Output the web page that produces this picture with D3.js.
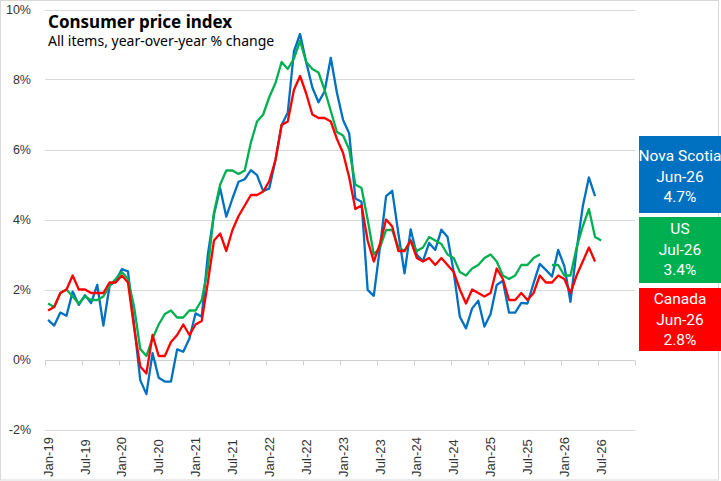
<!DOCTYPE html>
<html>
<head>
<meta charset="utf-8">
<script src="https://cdn.jsdelivr.net/npm/d3@7"></script>
<style>
  html, body { margin: 0; padding: 0; background: #fff; }
  svg { display: block; }
</style>
</head>
<body>
<svg id="chart" width="721" height="481"></svg>
<script>
// ---------- DATA ----------
const startMonth = new Date(2019, 0, 1);
const monthCount = 96; // Jan-19 .. Dec-26 category slots
const tickLabels = ["Jan-19","Jul-19","Jan-20","Jul-20","Jan-21","Jul-21","Jan-22","Jul-22",
                    "Jan-23","Jul-23","Jan-24","Jul-24","Jan-25","Jul-25","Jan-26","Jul-26"];
const yTicks = [-2, 0, 2, 4, 6, 8, 10];

const novaScotia = [
  1.13, 0.97, 1.34, 1.25, 1.94, 1.56, 1.84, 1.61, 2.13, 0.97, 2.10, 2.25,
  2.58, 2.52, 1.0, -0.59, -0.99, 0.18, -0.52, -0.63, -0.63, 0.29, 0.22, 0.6,
  1.32, 1.22, 3.0, 4.15, 4.89, 4.08, 4.6, 5.08, 5.15, 5.41, 5.27, 4.81,
  4.89, 5.7, 6.7, 7.05, 8.8, 9.3, 8.5, 7.77, 7.35, 7.66, 8.62, 7.62,
  6.84, 6.46, 4.6, 4.51, 1.99, 1.82, 3.2, 4.67, 4.82, 3.6, 2.46, 3.72,
  2.99, 2.81, 3.33, 3.13, 3.71, 3.5, 2.5, 1.22, 0.89, 1.46, 1.68, 0.94,
  1.30, 2.13, 2.25, 1.34, 1.34, 1.62, 1.6, 2.18, 2.73, 2.56, 2.37, 3.13,
  2.67, 1.65, 3.13, 4.37, 5.2, 4.67
];
const us = [
  1.6, 1.5, 1.9, 2.0, 1.8, 1.6, 1.8, 1.7, 1.7, 1.8, 2.1, 2.3,
  2.5, 2.3, 1.5, 0.3, 0.1, 0.6, 1.0, 1.3, 1.4, 1.2, 1.2, 1.4,
  1.4, 1.7, 2.6, 4.2, 5.0, 5.4, 5.4, 5.3, 5.4, 6.2, 6.8, 7.0,
  7.5, 7.9, 8.5, 8.3, 8.6, 9.1, 8.5, 8.3, 8.2, 7.7, 7.1, 6.5,
  6.4, 6.0, 5.0, 4.9, 4.0, 3.0, 3.2, 3.7, 3.7, 3.2, 3.1, 3.4,
  3.1, 3.2, 3.5, 3.4, 3.3, 3.0, 2.9, 2.5, 2.4, 2.6, 2.7, 2.9,
  3.0, 2.8, 2.4, 2.3, 2.4, 2.7, 2.7, 2.9, 3.0, null, 2.7, 2.7,
  2.4, 2.4, 3.2, 3.8, 4.3, 3.5, 3.4
];
const canada = [
  1.4, 1.5, 1.9, 2.0, 2.4, 2.0, 2.0, 1.9, 1.9, 1.9, 2.2, 2.2,
  2.4, 2.2, 0.9, -0.2, -0.4, 0.7, 0.1, 0.1, 0.5, 0.7, 1.0, 0.7,
  1.0, 1.1, 2.2, 3.4, 3.6, 3.1, 3.7, 4.1, 4.4, 4.7, 4.7, 4.8,
  5.1, 5.7, 6.7, 6.8, 7.7, 8.1, 7.6, 7.0, 6.9, 6.9, 6.8, 6.3,
  5.9, 5.2, 4.3, 4.4, 3.4, 2.8, 3.3, 4.0, 3.8, 3.1, 3.1, 3.4,
  2.9, 2.8, 2.9, 2.7, 2.9, 2.7, 2.5, 2.0, 1.6, 2.0, 1.9, 1.8,
  1.9, 2.6, 2.3, 1.7, 1.7, 1.9, 1.7, 1.9, 2.4, 2.2, 2.2, 2.4,
  2.3, 1.9, 2.4, 2.8, 3.2, 2.8
];

const seriesNames = ["Nova Scotia", "US", "Canada"];
const seriesColors = ["#0070C0", "#00B050", "#FF0000"];
const legendPeriods = ["Jun-26", "Jul-26", "Jun-26"];

// ---------- SETUP ----------
const fmt = d3.timeFormat("%b-%y");
const months = d3.range(monthCount).map(i => fmt(d3.timeMonth.offset(startMonth, i)));
const seriesValues = [novaScotia, us, canada];

const svg = d3.select("#chart");
const plot = { left: 45, right: 635, top: 9.5, bottom: 429.5 };

const x = d3.scaleBand().domain(months).range([plot.left, plot.right]).paddingInner(0).paddingOuter(0);
const xEdge = d3.scaleLinear().domain([0, monthCount]).range([plot.left, plot.right]);
const y = d3.scaleLinear().domain([-2, 10]).range([plot.bottom, plot.top]);
const cx = m => x(m) + x.bandwidth() / 2;

// chart border
svg.append("rect")
  .attr("x", 0.5).attr("y", 0.5).attr("width", 718).attr("height", 479.5)
  .attr("fill", "#fff").attr("stroke", "#d9d9d9");

// gridlines
svg.append("g").selectAll("line").data(yTicks).join("line")
  .attr("x1", plot.left).attr("x2", plot.right)
  .attr("y1", d => Math.round(y(d)) + 0.5).attr("y2", d => Math.round(y(d)) + 0.5)
  .attr("stroke", "#d9d9d9").attr("stroke-width", 1);

// y labels
svg.append("g").selectAll("text").data(yTicks).join("text")
  .attr("x", 31).attr("y", d => y(d)).attr("dy", "0.35em")
  .attr("text-anchor", "end")
  .attr("font-family", "'Liberation Sans', Arial, sans-serif")
  .attr("font-size", 12.5).attr("fill", "#333")
  .text(d => d + "%");

// x axis line at 0 and ticks at category boundaries
const y0 = Math.round(y(0)) + 0.5;
svg.append("line").attr("x1", plot.left).attr("x2", plot.right)
  .attr("y1", y0).attr("y2", y0).attr("stroke", "#cfcfcf");
svg.append("g").selectAll("line").data(d3.range(0, monthCount + 1, 6)).join("line")
  .attr("x1", d => Math.round(xEdge(d)) + 0.5).attr("x2", d => Math.round(xEdge(d)) + 0.5)
  .attr("y1", y0).attr("y2", y0 + 5)
  .attr("stroke", "#cfcfcf");

// x labels (rotated)
svg.append("g").selectAll("text").data(tickLabels).join("text")
  .attr("transform", d => `translate(${cx(d)},457) rotate(-90)`)
  .attr("text-anchor", "middle").attr("dy", "0.35em")
  .attr("font-family", "'Liberation Sans', Arial, sans-serif")
  .attr("font-size", 13).attr("fill", "#333")
  .text(d => d);

// lines
const line = d3.line()
  .defined(d => d.v !== null && d.v !== undefined)
  .x(d => cx(d.m)).y(d => y(d.v));

seriesValues.forEach((vals, si) => {
  const pts = vals.map((v, i) => ({ m: months[i], v }));
  svg.append("path").datum(pts)
    .attr("fill", "none").attr("stroke", seriesColors[si])
    .attr("stroke-width", 2.3).attr("stroke-linejoin", "round")
    .attr("d", line);
});

// title
svg.append("text").attr("x", 48).attr("y", 27.5)
  .attr("font-family", "'Noto Sans', sans-serif").attr("font-weight", "bold")
  .attr("font-size", 17).attr("fill", "#000").text("Consumer price index");
svg.append("text").attr("x", 48).attr("y", 45.5)
  .attr("font-family", "'Noto Sans', sans-serif")
  .attr("font-size", 14).attr("fill", "#000").text("All items, year-over-year % change");

// legend boxes
const boxes = [
  { top: 136, bottom: 213, first: 161 },
  { top: 217, bottom: 283, first: 234 },
  { top: 288, bottom: 351, first: 304 }
];
boxes.forEach((b, si) => {
  const vals = seriesValues[si];
  const last = vals[vals.length - 1];
  svg.append("rect").attr("x", 639).attr("y", b.top)
    .attr("width", 82).attr("height", b.bottom - b.top)
    .attr("fill", seriesColors[si]);
  const lines = [seriesNames[si], legendPeriods[si], last.toFixed(1) + "%"];
  svg.append("g").selectAll("text").data(lines).join("text")
    .attr("x", 680).attr("y", (d, i) => b.first + i * 20.5)
    .attr("text-anchor", "middle")
    .attr("font-family", "Roboto, sans-serif")
    .attr("font-size", 15.5).attr("fill", "#fff")
    .text(d => d);
});
</script>
</body>
</html>
